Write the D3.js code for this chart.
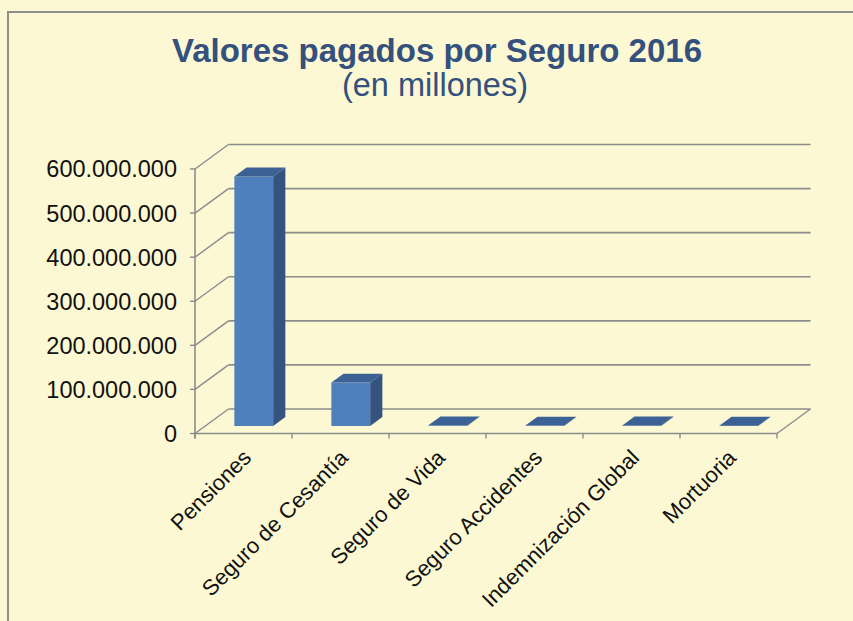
<!DOCTYPE html>
<html>
<head>
<meta charset="utf-8">
<script src="https://cdn.jsdelivr.net/npm/d3@7"></script>
<style>
html,body{margin:0;padding:0;background:#FBF8D3;}
svg{display:block;}
</style>
</head>
<body>
<svg id="chart" width="853" height="621"></svg>
<script>
const categories = ["Pensiones","Seguro de Cesantía","Seguro de Vida","Seguro Accidentes","Indemnización Global","Mortuoria"];
const values = [566000000, 98500000, 1500000, 1000000, 1200000, 800000];
const yTicks = [0,100000000,200000000,300000000,400000000,500000000,600000000];
const titleText = "Valores pagados por Seguro 2016";
const subtitleText = "(en millones)";

const svg = d3.select("#chart");
const W = 853, H = 621;
svg.append("rect").attr("width",W).attr("height",H).attr("fill","#FBF8D3");
// frame
svg.append("path").attr("d","M8,700 L8,12 L900,12").attr("fill","none").attr("stroke","#8E8E8E").attr("stroke-width",2);

// title
svg.append("text").attr("x",437).attr("y",62).attr("text-anchor","middle")
  .attr("font-family","Liberation Sans, Arial, sans-serif").attr("font-weight","bold")
  .attr("font-size",33).attr("fill","#34507D").text(titleText);
svg.append("text").attr("x",435).attr("y",96).attr("text-anchor","middle")
  .attr("font-family","Liberation Sans, Arial, sans-serif")
  .attr("font-size",32.5).attr("fill","#34507D").text(subtitleText);

// 3D geometry
const DX = 33.5, DY = -24.5;  // depth vector
const x0 = 195, x1 = 777;
const x = d3.scaleBand().domain(categories).range([x0,x1]).paddingInner(0).paddingOuter(0);
const y = d3.scaleLinear().domain([0,600000000]).range([433.5,169]);
const f1 = 0.306, f2 = 0.67;
const barFrac = 0.4;
const gridColor = "#8C8C8C";

const g = svg.append("g");
// back wall gridlines
yTicks.forEach(t=>{
  g.append("line").attr("x1",x0+DX).attr("x2",x1+DX).attr("y1",y(t)+DY).attr("y2",y(t)+DY)
   .attr("stroke",gridColor).attr("stroke-width",1.6);
  // left wall diagonals
  g.append("line").attr("x1",x0).attr("x2",x0+DX).attr("y1",y(t)).attr("y2",y(t)+DY)
   .attr("stroke",gridColor).attr("stroke-width",1.4);
});
// floor: front line and right diagonal
g.append("line").attr("x1",x0).attr("x2",x1).attr("y1",y(0)).attr("y2",y(0)).attr("stroke",gridColor).attr("stroke-width",1.6);
g.append("line").attr("x1",x1).attr("x2",x1+DX).attr("y1",y(0)).attr("y2",y(0)+DY).attr("stroke",gridColor).attr("stroke-width",1.4);
// front vertical axis
g.append("line").attr("x1",x0).attr("x2",x0).attr("y1",y(600000000)).attr("y2",y(0)+5).attr("stroke",gridColor).attr("stroke-width",1.6);
yTicks.forEach(t=>{
  g.append("line").attr("x1",x0-5).attr("x2",x0).attr("y1",y(t)).attr("y2",y(t)).attr("stroke",gridColor).attr("stroke-width",1.4);
});
// bottom category ticks
const bounds = categories.map(c=>x(c)).concat([x1]);
bounds.forEach(b=>{
  g.append("line").attr("x1",b).attr("x2",b).attr("y1",y(0)).attr("y2",y(0)+5).attr("stroke",gridColor).attr("stroke-width",1.4);
});

// bars
const bw = x.bandwidth()*barFrac;
categories.forEach((c,i)=>{
  const v = values[i];
  const xl = x(c) + (x.bandwidth()-bw)/2, xr = xl + bw;
  const yt = y(v), yb = y(0);
  const P = (px,py,f)=>[px+f*DX, py+f*DY];
  const pts = a=>a.map(p=>p.join(",")).join(" ");
  // side face
  g.append("polygon").attr("points",pts([P(xr,yt,f1),P(xr,yt,f2),P(xr,yb,f2),P(xr,yb,f1)])).attr("fill","#34547F");
  // front face
  const a = P(xl,yt,f1), b = P(xl,yb,f1);
  g.append("rect").attr("x",a[0]).attr("y",a[1]).attr("width",bw).attr("height",Math.max(0,b[1]-a[1])).attr("fill","#4F80BD");
  // top face
  g.append("polygon").attr("points",pts([P(xl,yt,f1),P(xr,yt,f1),P(xr,yt,f2),P(xl,yt,f2)])).attr("fill","#3C6195");
});

// y labels
yTicks.forEach(t=>{
  svg.append("text").attr("x",177).attr("y",y(t)).attr("dy","0.36em").attr("text-anchor","end")
    .attr("font-family","Liberation Sans, Arial, sans-serif").attr("font-size",23.5).attr("fill","#111")
    .text(d3.format(",")(t).replace(/,/g,"."));
});
// x labels
categories.forEach(c=>{
  const cx = x(c) + x.bandwidth()/2 + 9, cy = 459;
  svg.append("text").attr("transform",`translate(${cx},${cy}) rotate(-45)`).attr("text-anchor","end")
    .attr("font-family","Liberation Sans, Arial, sans-serif").attr("font-size",22).attr("fill","#111").text(c);
});
</script>
</body>
</html>
